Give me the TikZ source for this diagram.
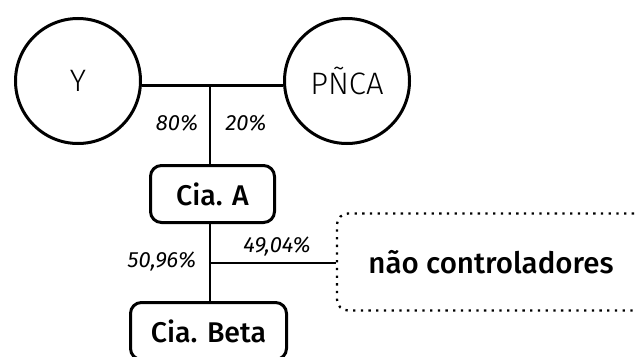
\documentclass[tikz,border=0pt]{standalone}
\usepackage{fontspec}
\setmainfont{Fira Sans}
\newfontfamily\lightfont{Fira Sans Light}
\newfontfamily\medfont{Fira Sans Medium}
\begin{document}
\begin{tikzpicture}[x=1pt,y=-1pt,
  party/.style={circle,draw,line width=3pt,minimum size=125pt,inner sep=0pt,font=\lightfont\fontsize{31}{31}\selectfont},
  cia/.style={rectangle,draw,line width=3pt,rounded corners=11pt,minimum height=57pt,inner sep=0pt,font=\medfont\fontsize{28.5}{28.5}\selectfont},
  minority/.style={rectangle,draw,line width=2.3pt,rounded corners=11pt,dash pattern=on 2.3pt off 5.4pt,minimum width=308pt,minimum height=97pt,inner sep=0pt,font=\medfont\fontsize{29.5}{29.5}\selectfont},
  link/.style={line width=2.7pt},
  pct/.style={inner sep=0pt,font=\itshape\fontsize{22}{22}\selectfont}]
\useasboundingbox (0,0) rectangle (636,356);
\node[party] (Y) at (78,81) {Y};
\node[party] (P) at (347,81) {PÑCA};
\node[cia,minimum width=124pt] (A) at (212.5,194) {Cia. A};
\node[cia,minimum width=156pt] (B) at (208.5,331) {Cia. Beta};
\node[minority] (nc) at (491,262) {não controladores};
\coordinate (j1) at (210,85);
\coordinate (j2) at (210,263);
\draw[link] (Y.-4) -- (P.184);
\draw[link] (j1) -- (j1 |- A.north);
\draw[link] (A.south -| j2) -- (B.north -| j2);
\draw[link] (j2) -- (nc.west |- j2);
\node[pct] (p80) at (177,123) {80\%};
\node[pct] (p20) at (246,123) {20\%};
\node[pct] (p50) at (162,262) {50,96\%};
\node[pct] (p49) at (277,246) {49,04\%};
\end{tikzpicture}
\end{document}
